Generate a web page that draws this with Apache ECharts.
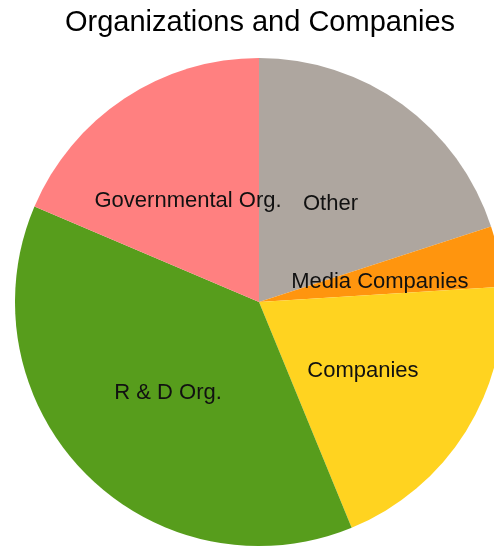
<!DOCTYPE html>
<html>
<head>
<meta charset="utf-8">
<script src="https://cdn.jsdelivr.net/npm/echarts@6/dist/echarts.min.js"></script>
<style>
html, body { margin: 0; padding: 0; background: #fff; }
#chart { width: 494px; height: 547px; }
</style>
</head>
<body>
<div id="chart"></div>
<script>
const categories = ['Other', 'Media Companies', 'Companies', 'R & D Org.', 'Governmental Org.'];
const values = [20.0, 4.0, 19.8, 37.6, 18.6];
const colors = ['#aea69f', '#ff950e', '#ffd320', '#579d1c', '#ff8080'];

const chart = echarts.init(document.getElementById('chart'), null, { renderer: 'canvas' });
chart.setOption({
  animation: false,
  backgroundColor: '#ffffff',
  title: {
    text: 'Organizations and Companies',
    left: 60,
    top: 3,
    textStyle: { fontFamily: 'Liberation Sans', fontSize: 29, fontWeight: 'normal', color: '#000' }
  },
  series: [{
    type: 'pie',
    center: [259, 302],
    radius: 244,
    startAngle: 90,
    clockwise: true,
    label: {
      show: true,
      position: 'inside',
      fontFamily: 'Liberation Sans',
      fontSize: 22,
      color: '#111',
      offset: [-2, 3],
      formatter: '{b}'
    },
    labelLine: { show: false },
    itemStyle: { borderWidth: 0 },
    emphasis: { disabled: true },
    data: categories.map((c, i) => ({ name: c, value: values[i], itemStyle: { color: colors[i] } }))
  }]
});
</script>
</body>
</html>
